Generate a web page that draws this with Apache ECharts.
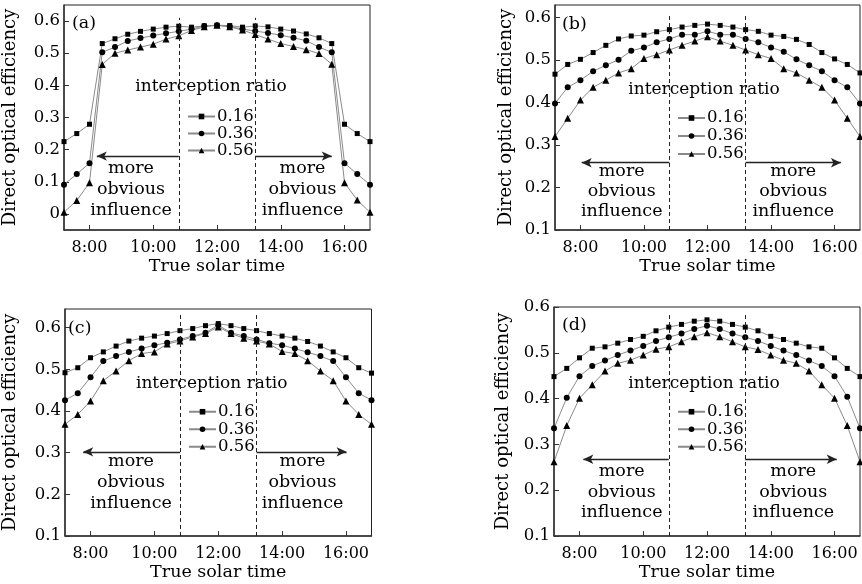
<!DOCTYPE html>
<html>
<head>
<meta charset="utf-8">
<script src="https://cdn.jsdelivr.net/npm/echarts@6/dist/echarts.min.js"></script>
<style>html,body{margin:0;padding:0;background:#fff}#c{width:862px;height:584px}</style>
</head>
<body>
<div id="c"></div>
<script>
// ---- data ----
const times = [7.2,7.6,8.0,8.4,8.8,9.2,9.6,10.0,10.4,10.8,11.2,11.6,12.0,12.4,12.8,13.2,13.6,14.0,14.4,14.8,15.2,15.6,16.0,16.4,16.8];
const seriesNames = ['0.16','0.36','0.56'];
const xTickValues = [8,10,12,14,16];
const xTickLabels = ['8:00','10:00','12:00','14:00','16:00'];
const yTicksA = [0,0.1,0.2,0.3,0.4,0.5,0.6];
const yTicksB = [0.1,0.2,0.3,0.4,0.5,0.6];
const panelLabels = ['(a)','(b)','(c)','(d)'];

const a016 = [0.225,0.250,0.279,0.530,0.545,0.559,0.568,0.575,0.581,0.584,0.581,0.585,0.587,0.586,0.581,0.585,0.582,0.575,0.569,0.560,0.548,0.530,0.279,0.250,0.225];
const a036 = [0.091,0.124,0.158,0.503,0.519,0.538,0.547,0.555,0.562,0.568,0.575,0.585,0.587,0.583,0.575,0.569,0.563,0.556,0.548,0.539,0.519,0.503,0.158,0.124,0.091];
const a056 = [0.005,0.042,0.097,0.465,0.500,0.510,0.519,0.528,0.544,0.554,0.571,0.582,0.587,0.582,0.572,0.558,0.544,0.530,0.521,0.511,0.499,0.466,0.097,0.043,0.005];

const b016 = [0.467,0.490,0.502,0.518,0.535,0.550,0.557,0.559,0.567,0.572,0.578,0.582,0.585,0.582,0.578,0.572,0.568,0.559,0.556,0.549,0.537,0.518,0.503,0.490,0.470];
const b036 = [0.398,0.436,0.453,0.474,0.488,0.501,0.522,0.530,0.542,0.550,0.560,0.560,0.568,0.560,0.560,0.550,0.542,0.530,0.520,0.502,0.488,0.474,0.453,0.436,0.398];
const b056 = [0.320,0.363,0.406,0.436,0.453,0.470,0.480,0.504,0.513,0.524,0.535,0.545,0.555,0.545,0.535,0.524,0.513,0.504,0.480,0.470,0.453,0.436,0.406,0.363,0.320];

const c016 = [0.492,0.504,0.528,0.542,0.556,0.568,0.575,0.580,0.586,0.593,0.598,0.605,0.610,0.605,0.598,0.593,0.586,0.580,0.575,0.567,0.556,0.542,0.528,0.504,0.491];
const c036 = [0.426,0.443,0.481,0.520,0.532,0.542,0.550,0.558,0.564,0.572,0.580,0.588,0.606,0.588,0.580,0.572,0.563,0.558,0.550,0.541,0.532,0.520,0.481,0.443,0.426];
const c056 = [0.368,0.392,0.424,0.473,0.496,0.521,0.538,0.542,0.561,0.568,0.578,0.586,0.602,0.586,0.575,0.568,0.561,0.543,0.538,0.521,0.496,0.473,0.424,0.392,0.368];

const d016 = [0.448,0.466,0.489,0.510,0.513,0.521,0.529,0.536,0.548,0.556,0.562,0.569,0.572,0.569,0.562,0.556,0.548,0.536,0.529,0.521,0.513,0.510,0.489,0.466,0.448];
const d036 = [0.335,0.402,0.449,0.471,0.483,0.495,0.505,0.515,0.526,0.534,0.542,0.552,0.559,0.552,0.542,0.534,0.526,0.515,0.505,0.495,0.483,0.471,0.449,0.404,0.335];
const d056 = [0.262,0.341,0.401,0.430,0.460,0.477,0.484,0.495,0.508,0.513,0.524,0.535,0.544,0.535,0.524,0.513,0.507,0.495,0.484,0.477,0.460,0.430,0.401,0.341,0.262];

const dashX = [10.8, 13.2];

// ---- layout / style ----
const FONT = "'DejaVu Serif', serif";
const INK = '#000';
const panels = [
  {grid:{left:64, top:5, width:306, height:225}, ymin:-0.05, ymax:0.65, yTicks:yTicksA, data:[a016,a036,a056],
   dashTop:0.610, arrowY:0.180, arrowL:8.23, arrowR:15.6, nameGap:45, legendTop:108, legendLeft:187, lh:17},
  {grid:{left:555, top:5, width:305, height:225}, ymin:0.1, ymax:0.63, yTicks:yTicksB, data:[b016,b036,b056],
   dashTop:0.609, arrowY:0.2585, arrowL:8.04, arrowR:16.2, nameGap:40, legendTop:109, legendLeft:677, lh:18},
  {grid:{left:65, top:309, width:306.5, height:227}, ymin:0.1, ymax:0.645, yTicks:yTicksB, data:[c016,c036,c056],
   dashTop:0.635, arrowY:0.302, arrowL:7.77, arrowR:16.02, nameGap:46, legendTop:403, legendLeft:188, lh:17.5},
  {grid:{left:554, top:307, width:306, height:229}, ymin:0.1, ymax:0.6, yTicks:yTicksB, data:[d016,d036,d056],
   dashTop:0.589, arrowY:0.2675, arrowL:8.12, arrowR:16.07, nameGap:42, legendTop:403, legendLeft:677, lh:17.5}
];
const symbols = ['rect','circle','triangle'];
const symbolSizes = [5,6,7];

const grids = [], xAxes = [], yAxes = [], series = [], legends = [], graphics = [];

panels.forEach((p, i) => {
  grids.push(Object.assign({show:true, borderColor:'#222', borderWidth:1, backgroundColor:'transparent'}, p.grid));
  xAxes.push({
    type:'value', gridIndex:i, min:7.2, max:16.8,
    name:'True solar time', nameLocation:'middle', nameGap:27,
    nameTextStyle:{fontFamily:FONT, fontSize:17.5, color:INK},
    axisLine:{show:true, onZero:false, lineStyle:{color:'#333', width:1.5}},
    axisTick:{show:true, inside:true, length:5, customValues:xTickValues, lineStyle:{color:'#333'}},
    axisLabel:{show:true, customValues:xTickValues, margin:10, fontFamily:FONT, fontSize:16, color:INK,
      formatter:v => xTickLabels[xTickValues.indexOf(v)] || ''},
    splitLine:{show:false}
  });
  yAxes.push({
    type:'value', gridIndex:i, min:p.ymin, max:p.ymax,
    name:'Direct optical efficiency', nameLocation:'middle', nameGap:p.nameGap,
    nameTextStyle:{fontFamily:FONT, fontSize:18, color:INK},
    axisLine:{show:true, onZero:false, lineStyle:{color:'#333', width:1.5}},
    axisTick:{show:true, inside:true, length:5, customValues:p.yTicks, lineStyle:{color:'#333'}},
    axisLabel:{show:true, customValues:p.yTicks, margin:4, fontFamily:FONT, fontSize:16.5, color:INK,
      formatter:v => (Math.abs(v) < 1e-9 ? '0' : v.toFixed(1))},
    splitLine:{show:false}
  });
  p.data.forEach((vals, k) => {
    const s = {
      type:'line', name:seriesNames[k], xAxisIndex:i, yAxisIndex:i,
      data: times.map((t, j) => [t, vals[j]]),
      symbol:symbols[k], symbolSize:symbolSizes[k], showAllSymbol:true,
      lineStyle:{color:'#8a8a8a', width:1},
      itemStyle:{color:'#000'},
      emphasis:{disabled:true}, animation:false, z:3
    };
    if (k === 0) {
      s.markLine = {
        silent:true, symbol:['none','none'], label:{show:false}, animation:false,
        lineStyle:{type:[4,3], color:'#222', width:1},
        data: dashX.map(x => [{coord:[x, p.ymin]}, {coord:[x, p.dashTop]}])
      };
    }
    if (k === 1) {
      s.markLine = {
        silent:true, symbol:['none','arrow'], symbolSize:[7,10], label:{show:false}, animation:false,
        lineStyle:{type:'solid', color:'#222', width:1.3},
        data: [
          [{coord:[dashX[0], p.arrowY]}, {coord:[p.arrowL, p.arrowY]}],
          [{coord:[dashX[1], p.arrowY]}, {coord:[p.arrowR, p.arrowY]}]
        ]
      };
    }
    series.push(s);
  });
  legends.push({
    data:seriesNames, orient:'vertical', left:p.legendLeft, top:p.legendTop,
    itemWidth:27, itemHeight:7, itemGap:0, padding:0, selectedMode:false,
    textStyle:{fontFamily:FONT, fontSize:16.5, color:INK, lineHeight:p.lh, padding:[0,0,0,-3]}
  });
});

// annotation texts (positions in px)
const txt = (text, x, y, size, align) => ({
  type:'text', x:x, y:y, silent:true,
  style:{text:text, fill:INK, font:size + 'px ' + FONT, textAlign:align || 'center', textVerticalAlign:'middle'}
});
const annot = [
  {lab:[72,23], ir:[211,87], more:[[131,168.5],[302.5,168.5]], dy:21},
  {lab:[562,24], ir:[704,90], more:[[621.7,171.7],[793.3,171.7]], dy:20},
  {lab:[68,328], ir:[211.7,383.3], more:[[131,461.7],[302.5,461.7]], dy:21},
  {lab:[562,325.7], ir:[704,383.3], more:[[621.7,471.7],[793.3,471.7]], dy:20.5}
];
annot.forEach((a, i) => {
  graphics.push(txt(panelLabels[i], a.lab[0], a.lab[1], 17.5, 'left'));
  graphics.push(txt('interception ratio', a.ir[0], a.ir[1], 17));
  a.more.forEach(m => {
    ['more','obvious','influence'].forEach((w, r) => graphics.push(txt(w, m[0], m[1] + r * a.dy, 17.5)));
  });
});

const chart = echarts.init(document.getElementById('c'), null, {renderer:'canvas'});
chart.setOption({
  animation:false,
  backgroundColor:'#fff',
  grid:grids, xAxis:xAxes, yAxis:yAxes, series:series, legend:legends, graphic:graphics
});
</script>
</body>
</html>
